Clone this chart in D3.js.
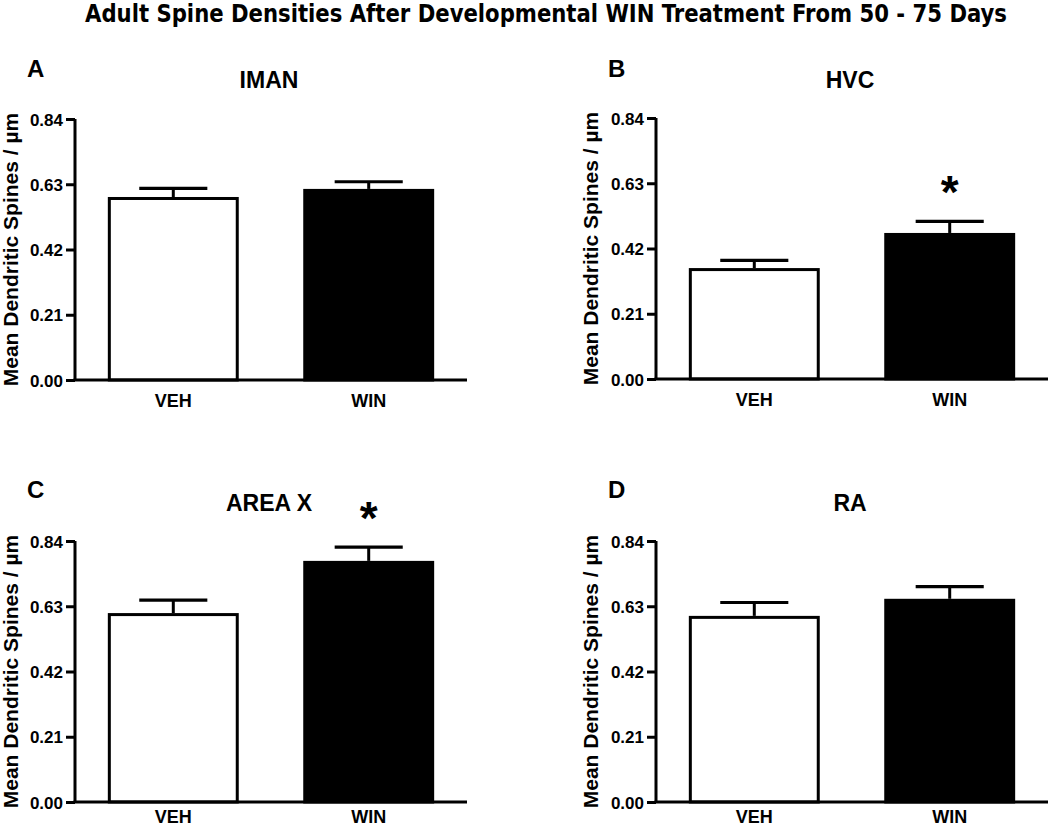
<!DOCTYPE html>
<html>
<head>
<meta charset="utf-8">
<script src="https://cdn.jsdelivr.net/npm/d3@7"></script>
<style>
  body { margin: 0; background: #fff; }
  text { font-family: "Liberation Sans", Arial, sans-serif; font-weight: bold; fill: #000; }
</style>
</head>
<body>
<svg width="1050" height="829"></svg>
<script>
// values (mean and upper SEM)
const regions = ['IMAN', 'HVC', 'AREA X', 'RA'];
const letters = ['A', 'B', 'C', 'D'];
const groups = ['VEH', 'WIN'];
const vehMean = [0.589, 0.357, 0.608, 0.599];
const vehSem = [0.028, 0.025, 0.042, 0.043];
const winMean = [0.615, 0.470, 0.776, 0.654];
const winSem = [0.023, 0.037, 0.044, 0.039];
const significant = [false, true, true, false];
const yTicks = [0, 0.21, 0.42, 0.63, 0.84];

const svg = d3.select('svg');

// panel placement
const panelX = [75, 656, 75, 656];
const panelY = [119, 118, 541, 541];
const W = 392, H = 261;

svg.append('text')
    .attr('x', 546).attr('y', 22)
    .attr('text-anchor', 'middle')
    .attr('textLength', 922).attr('lengthAdjust', 'spacingAndGlyphs')
    .style('font-family', '"DejaVu Sans Condensed", "DejaVu Sans", sans-serif')
    .style('font-size', '24px')
    .text('Adult Spine Densities After Developmental WIN Treatment From 50 - 75 Days');

regions.forEach((name, i) => {
    const g = svg.append('g').attr('transform', `translate(${panelX[i]},${panelY[i]})`);

    const x = d3.scaleBand().domain(groups).range([0, W]).paddingInner(0.33).paddingOuter(0.168);
    const y = d3.scaleLinear().domain([0, 0.84]).range([H, 0]);

    const data = [
        {group: 'VEH', mean: vehMean[i], sem: vehSem[i]},
        {group: 'WIN', mean: winMean[i], sem: winSem[i]}
    ];

    // error bars (upper only)
    g.selectAll('.err').data(data).join('line')
        .attr('x1', d => x(d.group) + x.bandwidth() / 2)
        .attr('x2', d => x(d.group) + x.bandwidth() / 2)
        .attr('y1', d => y(d.mean))
        .attr('y2', d => y(d.mean + d.sem))
        .attr('stroke', '#000').attr('stroke-width', 3);
    g.selectAll('.cap').data(data).join('line')
        .attr('x1', d => x(d.group) + x.bandwidth() * 0.24)
        .attr('x2', d => x(d.group) + x.bandwidth() * 0.76)
        .attr('y1', d => y(d.mean + d.sem))
        .attr('y2', d => y(d.mean + d.sem))
        .attr('stroke', '#000').attr('stroke-width', 3.2);

    g.selectAll('rect').data(data).join('rect')
        .attr('x', d => x(d.group) + 1.5)
        .attr('y', d => y(d.mean) + 1.5)
        .attr('width', x.bandwidth() - 3)
        .attr('height', d => H - y(d.mean) - 1.5)
        .attr('fill', d => d.group === 'VEH' ? '#fff' : '#000')
        .attr('stroke', '#000').attr('stroke-width', 3);

    // axes
    const yAxis = g.append('g')
        .call(d3.axisLeft(y).tickValues(yTicks).tickFormat(d3.format('.2f')).tickSize(9).tickPadding(3));
    yAxis.select('.domain').attr('stroke-width', 3).attr('d', `M0,${H}V0`);
    yAxis.selectAll('.tick line').attr('stroke-width', 3);
    yAxis.selectAll('.tick text').style('font-size', '17px').attr('dy', '0.36em');

    const xAxis = g.append('g').attr('transform', `translate(0,${H})`)
        .call(d3.axisBottom(x).tickSize(0).tickPadding(i < 2 ? 14 : 8));
    xAxis.select('.domain').attr('stroke-width', 3).attr('d', `M-1.5,0H${W}`);
    xAxis.selectAll('.tick text').style('font-size', '18px').attr('dy', '0.71em');

    // labels
    g.append('text')
        .attr('transform', `translate(${(i % 2 ? 598 : 18) - panelX[i]},${H / 2}) rotate(-90)`)
        .attr('text-anchor', 'middle')
        .style('font-size', '21px')
        .text('Mean Dendritic Spines / \u00b5m');

    g.append('text')
        .attr('x', W / 2 - 2).attr('y', (i < 2 ? 88 : 511) - panelY[i])
        .attr('text-anchor', 'middle')
        .style('font-size', '23px')
        .text(name);

    g.append('text')
        .attr('x', (i % 2 ? 608 : 27) - panelX[i]).attr('y', (i < 2 ? 77 : 498) - panelY[i])
        .style('font-size', '24px')
        .text(letters[i]);

    if (significant[i]) {
        const d = data[1];
        g.append('text')
            .attr('x', x(d.group) + x.bandwidth() / 2)
            .attr('y', y(d.mean + d.sem) - 39 + 0.55 * 46)
            .attr('text-anchor', 'middle')
            .style('font-size', '46px')
            .text('*');
    }
});
</script>
</body>
</html>
